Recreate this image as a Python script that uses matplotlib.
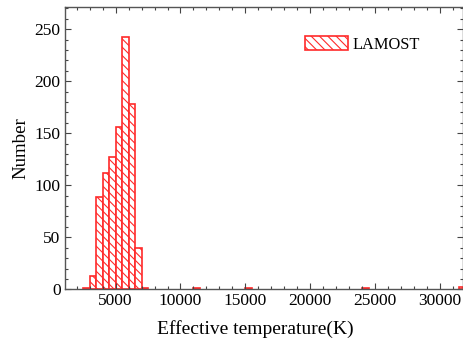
import matplotlib
matplotlib.use("Agg")
import matplotlib.pyplot as plt
from matplotlib.ticker import MultipleLocator
import numpy as np

# Histogram data (bin left edges in K, counts)
bin_lefts = [2500, 3000, 3500, 4000, 4500, 5000, 5500, 6000, 6500, 7000,
             11000, 15000, 24000, 31500]
counts = [1, 13, 89, 112, 127, 156, 242, 178, 40, 1,
          1, 1, 1, 2]
bin_width = 500
series_label = "LAMOST"

plt.rcParams['font.family'] = ['Liberation Serif', 'DejaVu Serif']
plt.rcParams['hatch.linewidth'] = 0.8

fig = plt.figure(figsize=(4.63, 3.45), dpi=100)
ax = fig.add_axes([0.1397, 0.1614, 0.999 - 0.1397, 0.9788 - 0.1614])

ax.bar(bin_lefts, counts, width=bin_width, align='edge', facecolor='white',
       edgecolor='#ff2a2a', hatch='\\\\\\\\', linewidth=1.2, label=series_label)

ax.set_xlim(1070, 31750)
ax.set_ylim(0, 271)
ax.xaxis.set_major_locator(MultipleLocator(5000))
ax.xaxis.set_minor_locator(MultipleLocator(1000))
ax.yaxis.set_major_locator(MultipleLocator(50))
ax.yaxis.set_minor_locator(MultipleLocator(10))
ax.tick_params(which='both', direction='in', top=True, right=True,
               color='#444444', labelsize=12.5, width=0.8)
ax.tick_params(which='major', length=4, pad=3)
ax.tick_params(which='minor', length=2)
for s in ax.spines.values():
    s.set_color('#555555')
    s.set_linewidth(1.0)

ax.set_xlabel("Effective temperature(K)", fontsize=14)
ax.xaxis.set_label_coords(0.478, -0.11)
ax.set_ylabel("Number", fontsize=13.6, labelpad=4)

ax.legend(loc='upper right', frameon=False, fontsize=11.8,
          bbox_to_anchor=(0.93, 0.95), handlelength=2.6, handleheight=0.95,
          handletextpad=0.3)

fig.savefig("out.png", dpi=100)
